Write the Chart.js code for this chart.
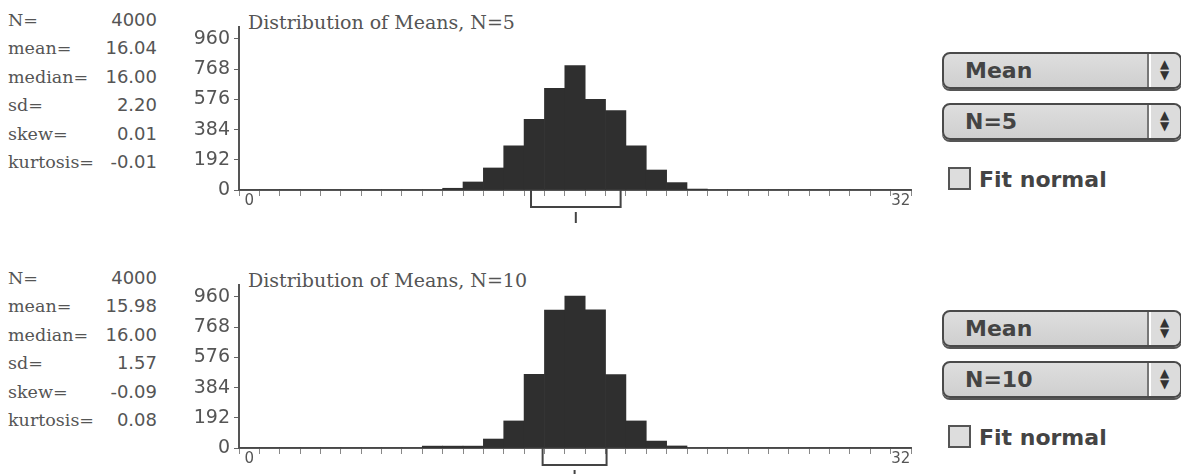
<!DOCTYPE html>
<html>
<head>
<meta charset="utf-8">
<script src="https://cdn.jsdelivr.net/npm/chart.js@4/dist/chart.umd.min.js"></script>
<style>
  body { margin: 0; background: #fff; width: 1181px; height: 474px; overflow: hidden; position: relative; }
  .group { position: absolute; left: 0; width: 1181px; height: 258px; }
  .stats { position: absolute; left: 8px; top: 6px; width: 149px; color: #555; }
  .row { height: 28.4px; line-height: 28.4px; position: relative; }
  .row .k { font-family: "DejaVu Serif", serif; font-size: 17.5px; }
  .row .v { position: absolute; right: 0; top: 0; font-family: "DejaVu Sans", sans-serif; font-size: 18px; }
  .title { position: absolute; left: 248px; top: 10px; font-family: "DejaVu Serif", serif; font-size: 19px; color: #555; line-height: 24px; white-space: nowrap; }
  canvas { position: absolute; left: 0; top: 0; }
  .pop { position: absolute; left: 942px; width: 236px; height: 33px; border: 2px solid #4a4a4a; border-radius: 8px;
         background: linear-gradient(#dedede, #cfcfcf); box-shadow: 0 2px 0 #555; font-family: "DejaVu Sans", sans-serif; font-weight: bold;
         font-size: 22px; color: #444; line-height: 33px; box-sizing: content-box; }
  .pop span.t { position: absolute; left: 21px; top: 0; }
  .pop .arr { position: absolute; right: 0; top: 0; width: 31px; height: 33px; border-left: 2px solid #777; box-shadow: inset 2px 0 0 #fff;
              background: #dcdcdc; border-radius: 0 7px 7px 0; font-size: 12px; line-height: 11px; text-align: center; color: #333; }
  .pop .arr div { margin-top: 5px; }
  .fit { position: absolute; left: 948px; font-family: "DejaVu Sans", sans-serif; font-weight: bold; font-size: 22px; color: #444; line-height: 24px; }
  .fit .box { display: inline-block; width: 19px; height: 19px; border: 2px solid #555; background: #ddd; vertical-align: -3px; margin-right: 8px; }
</style>
</head>
<body>

<div class="group" id="g5" style="top:0px">
  <div class="stats" id="stats5"></div>
  <div class="title" id="title5"></div>
  <canvas id="c5" width="930" height="250"></canvas>
  <div class="pop" style="top:52px"><span class="t" id="stat5"></span><div class="arr"><div>▲<br>▼</div></div></div>
  <div class="pop" style="top:103px"><span class="t" id="size5"></span><div class="arr"><div>▲<br>▼</div></div></div>
  <div class="fit" style="top:167px"><span class="box"></span>Fit normal</div>
</div>

<div class="group" id="g10" style="top:258px">
  <div class="stats" id="stats10"></div>
  <div class="title" id="title10"></div>
  <canvas id="c10" width="930" height="250"></canvas>
  <div class="pop" style="top:52px"><span class="t" id="stat10"></span><div class="arr"><div>▲<br>▼</div></div></div>
  <div class="pop" style="top:103px"><span class="t" id="size10"></span><div class="arr"><div>▲<br>▼</div></div></div>
  <div class="fit" style="top:167px"><span class="box"></span>Fit normal</div>
</div>

<script>
// sample means, bins centered on whole numbers 0..32
const binLabels = ['0','1','2','3','4','5','6','7','8','9','10','11','12','13','14','15','16',
                   '17','18','19','20','21','22','23','24','25','26','27','28','29','30','31','32'];
const countsN5 = [0,0,0,0,0,0,0,0,0,0,
                  11,51,140,280,449,646,790,576,504,280,127,47,6,
                  0,0,0,0,0,0,0,0,0,0];
const countsN10 = [0,0,0,0,0,0,0,0,0,
                   12,12,12,57,172,469,876,966,878,467,172,44,13,
                   0,0,0,0,0,0,0,0,0,0,0];
const yTicks = [0, 192, 384, 576, 768, 960];
const xTickShown = ['0', '32'];

const statNames = ['N=', 'mean=', 'median=', 'sd=', 'skew=', 'kurtosis='];
const statsN5 = ['4000', '16.04', '16.00', '2.20', '0.01', '-0.01'];
const statsN10 = ['4000', '15.98', '16.00', '1.57', '-0.09', '0.08'];

const titles = ['Distribution of Means, N=5', 'Distribution of Means, N=10'];
const statChoice = 'Mean';
const sizeChoices = ['N=5', 'N=10'];

function fillStats(id, vals) {
  let html = '';
  statNames.forEach(function(k, i) {
    html += '<div class="row"><span class="k">' + k + '</span><span class="v">' + vals[i] + '</span></div>';
  });
  document.getElementById(id).innerHTML = html;
}

// box of mean +/- sd hanging under the axis, plus a mark at the mean
const meanBox = {
  id: 'meanBox',
  afterDatasetsDraw: function(chart, args, opts) {
    const ctx = chart.ctx, x = chart.scales.x, y0 = chart.chartArea.bottom;
    const l = x.getPixelForValue(opts.mean - opts.sd);
    const r = x.getPixelForValue(opts.mean + opts.sd);
    const m = x.getPixelForValue(opts.mean);
    ctx.save();
    ctx.strokeStyle = '#444';
    ctx.lineWidth = 2;
    ctx.beginPath();
    ctx.moveTo(l, y0);
    ctx.lineTo(l, y0 + 17);
    ctx.lineTo(r, y0 + 17);
    ctx.lineTo(r, y0);
    ctx.stroke();
    ctx.beginPath();
    ctx.moveTo(m, y0 + 22);
    ctx.lineTo(m, y0 + 33);
    ctx.stroke();
    ctx.restore();
  }
};

function makeHist(canvasId, counts, stats) {
  return new Chart(document.getElementById(canvasId), {
    type: 'bar',
    data: {
      labels: binLabels,
      datasets: [{
        data: counts,
        backgroundColor: '#2f2f2f',
        borderWidth: 0,
        barPercentage: 1.0,
        categoryPercentage: 1.0
      }]
    },
    plugins: [meanBox],
    options: {
      responsive: false,
      animation: false,
      devicePixelRatio: 1,
      layout: { padding: { left: 0, top: 27, right: 19, bottom: 0 } },
      plugins: {
        legend: { display: false },
        tooltip: { enabled: false },
        meanBox: { mean: parseFloat(stats[1]), sd: parseFloat(stats[3]) }
      },
      scales: {
        x: {
          type: 'category',
          offset: true,
          afterFit: function(scale) { scale.height = 60; },
          border: { color: '#555', width: 2 },
          grid: { offset: true, drawOnChartArea: false, tickLength: 6, color: '#888', lineWidth: 1 },
          ticks: {
            autoSkip: false,
            maxRotation: 0,
            padding: -4,
            color: '#555',
            font: { family: 'DejaVu Sans', size: 15 },
            callback: function(value, index) {
              const lab = binLabels[index];
              return xTickShown.indexOf(lab) >= 0 ? lab : '';
            }
          }
        },
        y: {
          min: 0,
          max: 1036,
          afterFit: function(scale) { scale.width = 239; },
          afterBuildTicks: function(scale) {
            scale.ticks = yTicks.map(function(v) { return { value: v }; });
          },
          border: { color: '#555', width: 2 },
          grid: { drawOnChartArea: false, tickLength: 5, color: '#666' },
          ticks: {
            padding: 4,
            color: '#555',
            font: { family: 'DejaVu Sans', size: 19 }
          }
        }
      }
    }
  });
}

fillStats('stats5', statsN5);
fillStats('stats10', statsN10);
document.getElementById('title5').textContent = titles[0];
document.getElementById('title10').textContent = titles[1];
document.getElementById('stat5').textContent = statChoice;
document.getElementById('stat10').textContent = statChoice;
document.getElementById('size5').textContent = sizeChoices[0];
document.getElementById('size10').textContent = sizeChoices[1];

makeHist('c5', countsN5, statsN5);
makeHist('c10', countsN10, statsN10);
</script>
</body>
</html>
